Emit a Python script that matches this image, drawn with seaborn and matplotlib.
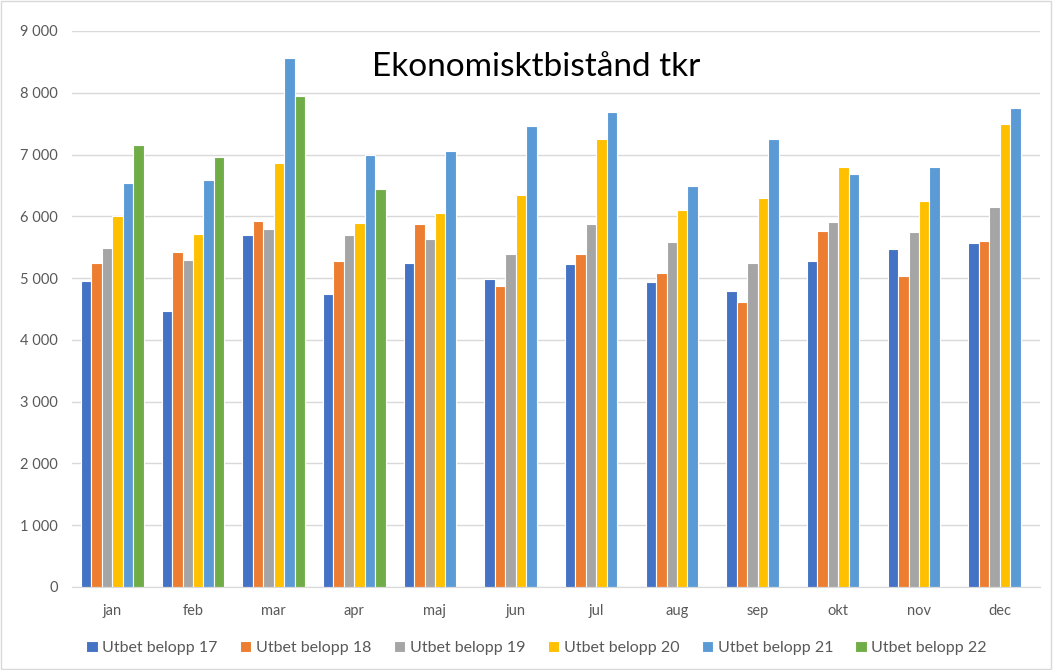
import pandas as pd
import matplotlib.pyplot as plt
import matplotlib.ticker as mticker
import numpy as np
import seaborn as sns

months = ['jan', 'feb', 'mar', 'apr', 'maj', 'jun', 'jul', 'aug', 'sep', 'okt', 'nov', 'dec']
series = ['Utbet belopp 17', 'Utbet belopp 18', 'Utbet belopp 19',
          'Utbet belopp 20', 'Utbet belopp 21', 'Utbet belopp 22']

b17 = [4950, 4475, 5690, 4750, 5250, 4990, 5225, 4935, 4795, 5280, 5470, 5570]
b18 = [5250, 5420, 5930, 5275, 5880, 4865, 5395, 5080, 4620, 5760, 5040, 5600]
b19 = [5490, 5300, 5790, 5690, 5640, 5395, 5880, 5590, 5250, 5910, 5740, 6150]
b20 = [6000, 5720, 6865, 5900, 6055, 6345, 7250, 6105, 6300, 6800, 6250, 7500]
b21 = [6535, 6585, 8555, 6990, 7055, 7470, 7690, 6490, 7250, 6680, 6800, 7760]
b22 = [7150, 6960, 7940, 6450] + [np.nan] * 8

colors = ['#4472C4', '#ED7D31', '#A5A5A5', '#FFC000', '#5B9BD5', '#70AD47']

rows = []
for name, vals in zip(series, [b17, b18, b19, b20, b21, b22]):
    for m, v in zip(months, vals):
        rows.append({'month': m, 'serie': name, 'value': v})
df = pd.DataFrame(rows)

sns.set_style('white')
plt.rcParams['font.family'] = ['Lato', 'DejaVu Sans']

fig = plt.figure(figsize=(10.54, 6.70), dpi=100)
ax = fig.add_axes([72 / 1054, 1 - 587 / 670, 968 / 1054, 556 / 670])

sns.barplot(data=df, x='month', y='value', hue='serie', order=months,
            hue_order=series, palette=colors, saturation=1, width=0.78,
            edgecolor='white', linewidth=0.8, ax=ax)

ax.set_ylim(0, 9000)
ax.set_yticks(range(0, 9001, 1000))
ax.yaxis.set_major_formatter(mticker.FuncFormatter(lambda v, p: f'{int(v):,}'.replace(',', ' ')))
ax.grid(axis='y', color='#D9D9D9', linewidth=1)
ax.set_axisbelow(True)
for s in ['top', 'right', 'left']:
    ax.spines[s].set_visible(False)
ax.spines['bottom'].set_color('#D9D9D9')
ax.tick_params(axis='both', length=0, labelsize=10.5, labelcolor='#595959')
ax.tick_params(axis='x', pad=12)
ax.tick_params(axis='y', pad=10)
ax.set_xlabel('')
ax.set_ylabel('')

ax.text(0.48, 0.935, 'Ekonomisktbistånd tkr', transform=ax.transAxes,
        ha='center', va='center', fontsize=24, color='#000000')

handles, labels = ax.get_legend_handles_labels()
ax.legend(handles, labels, loc='center', bbox_to_anchor=(0.48, -0.11),
          ncol=6, frameon=False, fontsize=11.5, labelcolor='#595959',
          handlelength=0.7, handleheight=0.7, handletextpad=0.3, columnspacing=1.4)

fig.patches.append(plt.Rectangle((0.001, 0.002), 0.996, 0.996, transform=fig.transFigure,
                                 fill=False, edgecolor='#D9D9D9', linewidth=1))

fig.savefig('out.png', dpi=100)
